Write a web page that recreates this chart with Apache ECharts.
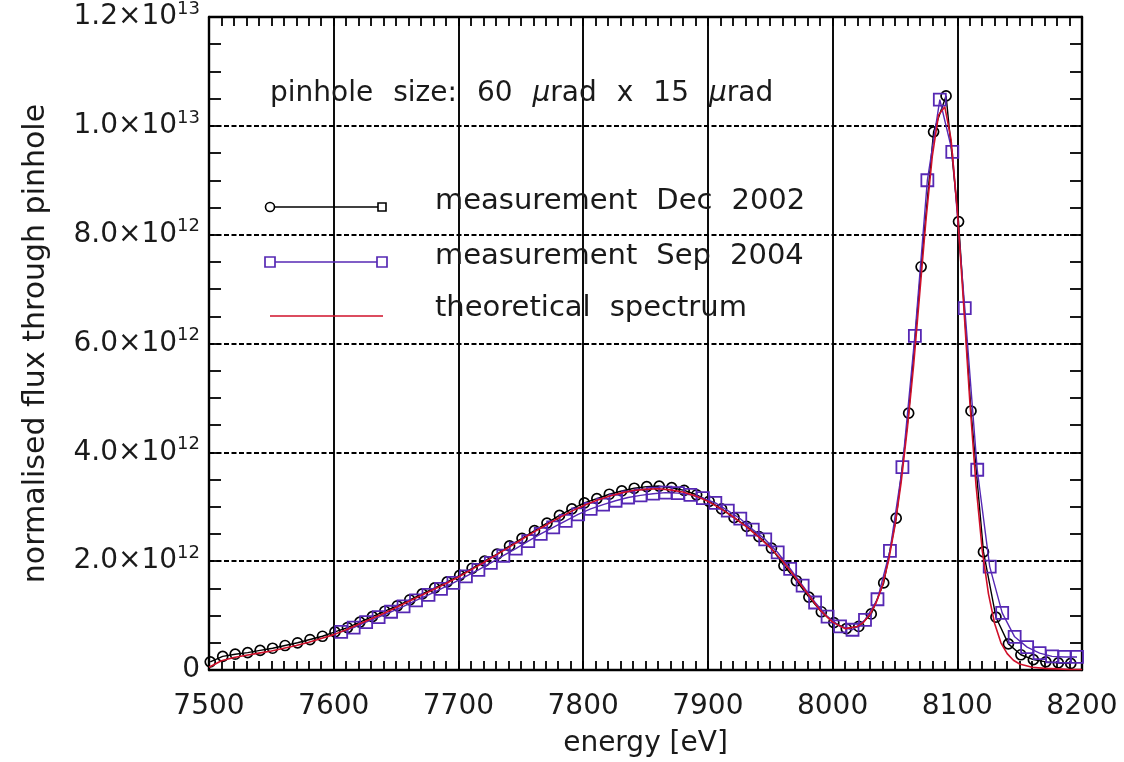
<!DOCTYPE html>
<html>
<head>
<meta charset="utf-8">
<script src="https://cdn.jsdelivr.net/npm/echarts@6/dist/echarts.min.js"></script>
<style>html,body{margin:0;padding:0;background:#fff;}#c{width:1124px;height:762px;}</style>
</head>
<body>
<div id="c"></div>
<script>
// ---- data (flux in units of 1e12) ----
const energyDec = [7501,7511,7521,7531,7541,7551,7561,7571,7581,7591,7601,7611,7621,7631,7641,7651,7661,7671,7681,7691,7701,7711,7721,7731,7741,7751,7761,7771,7781,7791,7801,7811,7821,7831,7841,7851,7861,7871,7881,7891,7901,7911,7921,7931,7941,7951,7961,7971,7981,7991,8001,8011,8021,8031,8041,8051,8061,8071,8081,8091,8101,8111,8121,8131,8141,8151,8161,8171,8181,8191];
const fluxDec = [0.15,0.25,0.29,0.32,0.36,0.40,0.45,0.50,0.56,0.62,0.70,0.78,0.88,0.98,1.08,1.18,1.29,1.40,1.51,1.62,1.74,1.87,2.00,2.13,2.28,2.42,2.56,2.70,2.84,2.96,3.07,3.15,3.23,3.29,3.34,3.37,3.38,3.35,3.30,3.22,3.10,2.96,2.80,2.64,2.45,2.24,1.92,1.64,1.34,1.07,0.87,0.76,0.80,1.03,1.60,2.79,4.72,7.41,9.89,10.55,8.24,4.76,2.17,0.97,0.48,0.28,0.19,0.15,0.13,0.12];

const energySep = [7606,7616,7626,7636,7646,7656,7666,7676,7686,7696,7706,7716,7726,7736,7746,7756,7766,7776,7786,7796,7806,7816,7826,7836,7846,7856,7866,7876,7886,7896,7906,7916,7926,7936,7946,7956,7966,7976,7986,7996,8006,8016,8026,8036,8046,8056,8066,8076,8086,8096,8106,8116,8126,8136,8146,8156,8166,8176,8186,8196];
const fluxSep = [0.70,0.78,0.88,0.97,1.07,1.17,1.28,1.38,1.49,1.60,1.72,1.84,1.97,2.10,2.23,2.37,2.50,2.62,2.74,2.86,2.96,3.04,3.11,3.17,3.21,3.24,3.26,3.25,3.22,3.16,3.07,2.93,2.78,2.58,2.40,2.16,1.86,1.55,1.24,0.98,0.80,0.74,0.92,1.30,2.19,3.73,6.14,9.00,10.48,9.52,6.65,3.68,1.90,1.05,0.61,0.42,0.31,0.25,0.24,0.24];

const energyTheory = [7500,7510,7520,7530,7540,7550,7560,7570,7580,7590,7600,7610,7620,7630,7640,7650,7660,7670,7680,7690,7700,7710,7720,7730,7740,7750,7760,7770,7780,7790,7800,7810,7820,7830,7840,7850,7860,7870,7880,7890,7900,7910,7920,7930,7940,7950,7960,7970,7980,7990,8000,8010,8020,8025,8030,8035,8040,8045,8050,8055,8060,8065,8070,8075,8080,8085,8090,8095,8100,8105,8110,8115,8120,8125,8130,8135,8140,8145,8150,8160,8170,8180,8190,8200];
const fluxTheory = [0.05,0.17,0.23,0.27,0.31,0.35,0.40,0.45,0.51,0.58,0.65,0.74,0.84,0.94,1.04,1.15,1.26,1.37,1.48,1.59,1.71,1.84,1.97,2.11,2.25,2.39,2.53,2.66,2.79,2.91,3.02,3.11,3.19,3.25,3.30,3.32,3.33,3.31,3.27,3.20,3.10,2.97,2.82,2.65,2.46,2.25,2.00,1.71,1.40,1.10,0.88,0.76,0.80,0.88,1.02,1.24,1.55,2.02,2.65,3.45,4.45,5.60,6.95,8.30,9.45,10.20,10.35,9.75,8.45,6.75,4.95,3.40,2.20,1.40,0.85,0.50,0.30,0.18,0.11,0.05,0.03,0.02,0.01,0.01];

const xTickLabels = ['7500','7600','7700','7800','7900','8000','8100','8200'];
const yTickMantissa = ['0','2.0×10','4.0×10','6.0×10','8.0×10','1.0×10','1.2×10'];
const yTickExponent = ['','12','12','12','12','13','13'];

const seriesNames = ['measurement Dec 2002','measurement Sep 2004','theoretical spectrum'];
const annotation = 'pinhole size: 60 μrad x 15 μrad';

// ---- chart ----
const FONT = 'DejaVu Sans';
const TXT = '#1a1a1a';
const PURPLE = '#5628b4';
const RED = '#d0102a';

const zip = (xs, ys) => xs.map((x, i) => [x, ys[i]]);

// build rich text with wide spaces (and italic mu) like the original stroke font
function richWide(str) {
  return str.split(' ').map((w) => {
    if (w.indexOf('μ') === 0) return '{i|μ}{n|' + w.slice(1) + '}';
    return '{n|' + w + '}';
  }).join('{s| }');
}

const chart = echarts.init(document.getElementById('c'), null, {renderer: 'canvas'});

const xCommon = {
  type: 'value', min: 7500, max: 8200, interval: 100,
  axisLine: {show: true, onZero: false, lineStyle: {color: '#000', width: 2.4}},
  axisTick: {show: true, inside: true, length: 9, lineStyle: {color: '#000', width: 1.8}},
  minorTick: {show: true, splitNumber: 10, length: 9, lineStyle: {color: '#000', width: 1.8}},
};
const yCommon = {
  type: 'value', min: 0, max: 12, interval: 2,
  axisLine: {show: true, onZero: false, lineStyle: {color: '#000', width: 2.4}},
  axisTick: {show: true, inside: true, length: 12, lineStyle: {color: '#000', width: 1.8}},
  minorTick: {show: true, splitNumber: 4, length: 12, lineStyle: {color: '#000', width: 1.8}},
};

const legendRich = (size) => ({
  n: {fontFamily: FONT, fontSize: size, fill: TXT},
  i: {fontFamily: FONT, fontSize: size, fontStyle: 'italic', fill: TXT},
  s: {fontFamily: FONT, fontSize: size, fill: TXT, width: 19}
});

const option = {
  animation: false,
  backgroundColor: '#fff',
  grid: {left: 209, right: 42, top: 17, bottom: 92, containLabel: false, outerBoundsMode: 'none'},
  xAxis: [
    Object.assign({}, xCommon, {
      position: 'bottom',
      name: 'energy [eV]', nameLocation: 'middle', nameGap: 60,
      nameTextStyle: {fontFamily: FONT, fontSize: 28, color: TXT},
      axisLabel: {
        margin: 23, fontFamily: FONT, fontSize: 28, color: TXT,
        formatter: (v) => xTickLabels[Math.round((v - 7500) / 100)]
      },
      splitLine: {show: true, lineStyle: {color: '#000', width: 1.9, type: 'solid'}}
    }),
    Object.assign({}, xCommon, {
      position: 'top', axisLabel: {show: false}, splitLine: {show: false}
    })
  ],
  yAxis: [
    Object.assign({}, yCommon, {
      position: 'left',
      name: 'normalised flux through pinhole', nameLocation: 'middle', nameGap: 158,
      nameTextStyle: {fontFamily: FONT, fontSize: 30, color: TXT},
      axisLabel: {
        margin: 9, fontFamily: FONT, color: TXT,
        formatter: (v) => {
          const i = Math.round(v / 2);
          const e = yTickExponent[i];
          return e ? '{m|' + yTickMantissa[i] + '}{e|' + e + '}' : '{m|' + yTickMantissa[i] + '}';
        },
        rich: {
          m: {fontFamily: FONT, fontSize: 28, color: TXT, lineHeight: 34},
          e: {fontFamily: FONT, fontSize: 18, color: TXT, lineHeight: 18, verticalAlign: 'top'}
        }
      },
      splitLine: {show: true, lineStyle: {color: '#000', width: 1.8, type: [5, 2.5]}}
    }),
    Object.assign({}, yCommon, {
      position: 'right', axisLabel: {show: false}, splitLine: {show: false}
    })
  ],
  series: [
    {
      name: seriesNames[0], type: 'line', xAxisIndex: 0, yAxisIndex: 0,
      data: zip(energyDec, fluxDec),
      symbol: 'circle', symbolSize: 10, showAllSymbol: true,
      lineStyle: {color: '#000', width: 1.4},
      itemStyle: {color: 'rgba(255,255,255,0)', borderColor: '#000', borderWidth: 1.7},
      z: 3
    },
    {
      name: seriesNames[1], type: 'line', xAxisIndex: 0, yAxisIndex: 0,
      data: zip(energySep, fluxSep),
      symbol: 'rect', symbolSize: 12, showAllSymbol: true,
      lineStyle: {color: PURPLE, width: 1.4},
      itemStyle: {color: 'rgba(255,255,255,0)', borderColor: PURPLE, borderWidth: 1.8},
      z: 4
    },
    {
      name: seriesNames[2], type: 'line', xAxisIndex: 0, yAxisIndex: 0,
      data: zip(energyTheory, fluxTheory),
      symbol: 'none', smooth: false,
      lineStyle: {color: RED, width: 1.6},
      z: 5
    }
  ],
  graphic: [
    {
      type: 'text', left: 270, top: 80, z: 20,
      style: {
        text: richWide(annotation),
        rich: Object.assign(legendRich(28), {s: {fontFamily: FONT, fontSize: 28, fill: TXT, width: 20}})
      }
    },
    // legend row 1
    {type: 'line', z: 20, shape: {x1: 270, y1: 207, x2: 382, y2: 207}, style: {stroke: '#000', lineWidth: 1.6}},
    {type: 'circle', z: 21, shape: {cx: 270, cy: 207, r: 4.5}, style: {fill: '#fff', stroke: '#000', lineWidth: 1.6}},
    {type: 'rect', z: 21, shape: {x: 378, y: 203, width: 8, height: 8}, style: {fill: '#fff', stroke: '#000', lineWidth: 1.6}},
    {type: 'text', z: 20, left: 435, top: 187, style: {text: richWide(seriesNames[0]), rich: legendRich(29)}},
    // legend row 2
    {type: 'line', z: 20, shape: {x1: 270, y1: 262, x2: 382, y2: 262}, style: {stroke: PURPLE, lineWidth: 1.6}},
    {type: 'rect', z: 21, shape: {x: 265, y: 257, width: 10, height: 10}, style: {fill: '#fff', stroke: PURPLE, lineWidth: 1.7}},
    {type: 'rect', z: 21, shape: {x: 377, y: 257, width: 10, height: 10}, style: {fill: '#fff', stroke: PURPLE, lineWidth: 1.7}},
    {type: 'text', z: 20, left: 435, top: 242, style: {text: richWide(seriesNames[1]), rich: legendRich(29)}},
    // legend row 3
    {type: 'line', z: 20, shape: {x1: 270, y1: 316, x2: 383, y2: 316}, style: {stroke: RED, lineWidth: 1.6}},
    {type: 'text', z: 20, left: 435, top: 294, style: {text: richWide(seriesNames[2]), rich: legendRich(29)}}
  ]
};
chart.setOption(option);
</script>
</body>
</html>
